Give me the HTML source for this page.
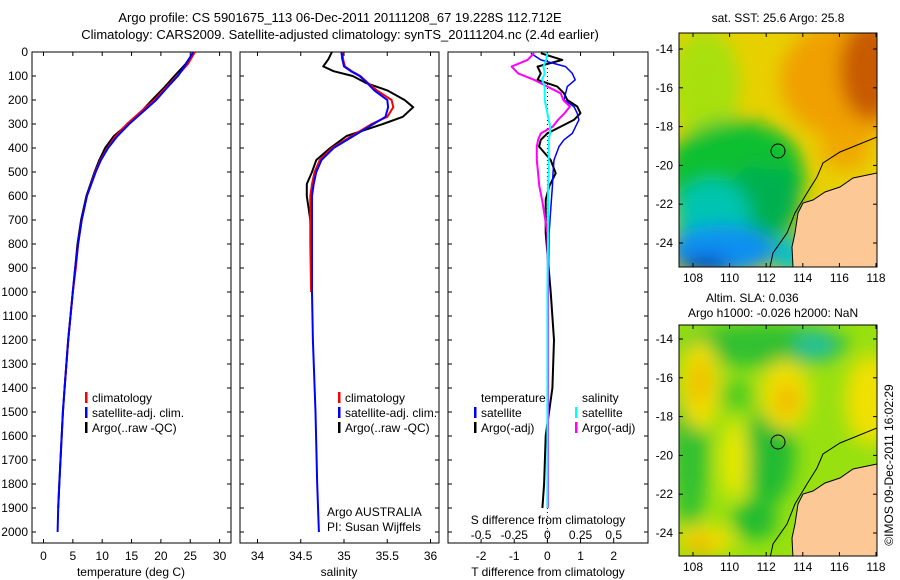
<!DOCTYPE html>
<html><head><meta charset="utf-8"><style>
body{margin:0;background:#fff;}
svg{display:block;font-family:"Liberation Sans",sans-serif;font-size:12px;}
</style></head><body>
<svg id="fig" width="900" height="580" viewBox="0 0 900 580">
<defs>
<filter id="blur" x="-50%" y="-50%" width="200%" height="200%"><feGaussianBlur stdDeviation="9"/></filter>
<clipPath id="clipTop"><rect x="679" y="33" width="198" height="234"/></clipPath>
<clipPath id="clipBot"><rect x="679" y="325" width="198" height="231"/></clipPath>
</defs>
<text x="340" y="22" text-anchor="middle" font-size="13">Argo profile: CS 5901675_113 06-Dec-2011 20111208_67 19.228S 112.712E</text>
<text x="340" y="39" text-anchor="middle" font-size="13">Climatology: CARS2009. Satellite-adjusted climatology: synTS_20111204.nc (2.4d earlier)</text>

<g id="maps">
<text x="778" y="22" text-anchor="middle">sat. SST: 25.6 Argo: 25.8</text>
<g clip-path="url(#clipTop)">
<rect x="679" y="33" width="198" height="234" fill="#e8d000"/>
<g filter="url(#blur)">
<ellipse cx="705" cy="85" rx="35" ry="55" fill="#a8e010"/>
<ellipse cx="850" cy="80" rx="70" ry="60" fill="#f0a000"/>
<ellipse cx="870" cy="70" rx="30" ry="50" fill="#c85a00"/>
<ellipse cx="845" cy="150" rx="25" ry="20" fill="#f0a800"/>
<ellipse cx="735" cy="175" rx="70" ry="55" fill="#10c030"/>
<ellipse cx="765" cy="200" rx="35" ry="40" fill="#00b050"/>
<ellipse cx="770" cy="150" rx="25" ry="20" fill="#10c030"/>
<ellipse cx="712" cy="215" rx="38" ry="35" fill="#00c4b0"/>
<ellipse cx="722" cy="250" rx="55" ry="25" fill="#1090f0"/>
<ellipse cx="705" cy="265" rx="25" ry="8" fill="#0030c0"/>
<ellipse cx="790" cy="255" rx="15" ry="20" fill="#00c0d0"/>
</g>
<polygon points="877,173 853,178 840,187 825,192 813,200 803,203 798,213 795,233 792,247 793,267 877,267" fill="#fcc896" stroke="#000" stroke-width="1"/>
<polyline points="877,137 840,152 823,163 817,177 807,193 795,213 787,233 773,253 770,267" fill="none" stroke="#000" stroke-width="1"/>
<circle cx="778" cy="151" r="7" fill="none" stroke="#000" stroke-width="1"/>
</g>
<rect x="679" y="33" width="198" height="234" fill="none" stroke="#000"/>

<text x="706" y="302">Altim. SLA: 0.036</text>
<text x="688" y="317">Argo h1000: -0.026 h2000: NaN</text>
<g clip-path="url(#clipBot)">
<rect x="679" y="325" width="198" height="231" fill="#98e010"/>
<g filter="url(#blur)">
<ellipse cx="765" cy="345" rx="85" ry="22" fill="#30c030"/>
<ellipse cx="815" cy="345" rx="20" ry="12" fill="#20c0a0"/>
<ellipse cx="690" cy="450" rx="18" ry="80" fill="#30c030"/>
<ellipse cx="770" cy="455" rx="25" ry="50" fill="#20bb30"/>
<ellipse cx="755" cy="520" rx="22" ry="20" fill="#20bb30"/>
<ellipse cx="735" cy="395" rx="20" ry="15" fill="#50cc20"/>
<ellipse cx="700" cy="385" rx="20" ry="45" fill="#f0e000"/>
<ellipse cx="700" cy="382" rx="9" ry="22" fill="#f0b800"/>
<ellipse cx="785" cy="395" rx="25" ry="35" fill="#f0e000"/>
<ellipse cx="787" cy="400" rx="11" ry="17" fill="#f0b800"/>
<ellipse cx="870" cy="400" rx="25" ry="45" fill="#f0e000"/>
<ellipse cx="735" cy="460" rx="14" ry="40" fill="#e8e800"/>
<ellipse cx="705" cy="540" rx="30" ry="15" fill="#f0e000"/>
<ellipse cx="700" cy="545" rx="15" ry="8" fill="#f0b000"/>
</g>
<polygon points="877,464 853,469 840,478 825,483 813,491 803,494 798,504 795,524 792,538 793,558 877,558" fill="#fcc896" stroke="#000" stroke-width="1"/>
<polyline points="877,428 840,443 823,454 817,468 807,484 795,504 787,524 773,544 770,558" fill="none" stroke="#000" stroke-width="1"/>
<circle cx="778" cy="442" r="7" fill="none" stroke="#000" stroke-width="1"/>
</g>
<rect x="679" y="325" width="198" height="231" fill="none" stroke="#000"/>
<text transform="translate(893,465) rotate(-90)" text-anchor="middle">©IMOS 09-Dec-2011 16:02:29</text>
</g>
<g id="plots"></g>
</svg>
<script>
// Temperature panel data
const depthT = [0,50,100,150,200,250,300,350,400,450,500,600,700,800,900,1000,1100,1200,1300,1400,1500,1600,1700,1800,1900,2000];
const climT = [25.8,24.6,22.8,20.8,18.9,16.5,14.2,12.3,10.9,9.7,8.8,7.4,6.5,5.9,5.5,5.0,4.6,4.2,3.9,3.6,null,null,null,null,null,null];
const satT = [25.5,24.3,22.9,21.0,19.2,16.9,14.6,12.6,11.0,9.8,8.9,7.4,6.5,5.9,5.4,5.0,4.6,4.2,3.9,3.6,3.3,3.1,2.9,2.7,2.5,2.4];
const argoT = [25.6,24.2,22.3,20.5,18.5,16.6,14.4,12.0,10.5,9.5,8.7,7.3,6.4,5.8,5.4,5.0,4.6,4.2,3.9,3.6,3.3,3.1,2.9,2.7,2.5,null];
// Salinity panel data
const depthS = [0,30,60,80,100,130,160,200,230,270,300,350,400,450,500,550,600,700,800,1000,1200,1500,1800,2000];
const climS = [34.98,34.99,35.01,35.09,35.19,35.28,35.38,35.55,35.57,35.50,35.32,35.09,34.86,34.72,34.66,34.63,34.61,34.61,34.61,34.62,null,null,null,null];
const satS = [34.97,34.98,35.00,35.08,35.18,35.27,35.35,35.50,35.51,35.48,35.34,35.11,34.88,34.74,34.68,34.65,34.63,34.63,34.63,34.63,34.64,34.67,34.69,34.71];
const argoS = [34.86,34.82,34.76,34.88,35.10,35.26,35.50,35.70,35.80,35.68,35.45,35.03,34.84,34.68,34.63,34.57,34.57,34.61,34.62,34.63,null,null,null,null];
// Difference panel data
const depthD = [5,33,61,89,116,144,172,200,227,255,283,311,339,366,394,450,505,561,616,755,1000,1200,1400,1600,1800,1900];
const satDT = [-0.5,-0.2,0.55,0.75,0.84,0.6,0.55,0.5,0.8,0.9,0.95,0.85,0.75,0.5,0.35,0.2,0.17,0.15,0.12,0.05,0.02,0,0,0,0,0];
const argoDT = [-0.2,0.45,-0.3,-0.2,-0.3,0.3,0.5,0.6,0.9,1.0,0.8,0.4,0.0,-0.2,-0.25,0.1,0.25,0.05,-0.05,-0.05,0.1,0.2,0.15,-0.05,-0.1,-0.15];
const satDS = [0,-0.01,-0.03,-0.02,-0.04,-0.02,-0.02,-0.02,-0.01,0,0.01,0.02,0.02,0.01,0.01,0.01,0.01,0.005,0.005,0.005,0,0,0,0,0,0];
const argoDS = [-0.1,-0.15,-0.27,-0.22,-0.1,0,0.1,0.12,0.17,0.13,0.08,0.04,-0.05,-0.07,-0.08,-0.08,-0.07,-0.06,-0.04,0,0.005,0.005,0.005,0.005,0.005,0.005];
const depthTicks = [0,100,200,300,400,500,600,700,800,900,1000,1100,1200,1300,1400,1500,1600,1700,1800,1900,2000];
const tTicks = [0,5,10,15,20,25,30];
const sTicks = [34,34.5,35,35.5,36];
const dTTicks = [-2,-1,0,1,2];
const dSTicks = [-0.5,-0.25,0,0.25,0.5];
const dSLabels = ['-0.5','-0.25','0','0.25','0.5'];
const latTicks = [-14,-16,-18,-20,-22,-24];
const lonTicks = [108,110,112,114,116,118];

const NS = 'http://www.w3.org/2000/svg';
const root = document.getElementById('plots');
function mk(tag, attrs, parent){ const e=document.createElementNS(NS,tag); for(const k in attrs) e.setAttribute(k,attrs[k]); (parent||root).appendChild(e); return e; }
const Y0=52, YB=543;
const yD = d => Y0 + d*0.24;
const xT = v => 43.5 + v*5.87;
const xS = v => 257.5 + (v-34)*86.5;
const xDT = v => 547.4 + v*33.15;
const xDS = v => 547.4 + v*132.6;
const P = [[32,231],[240,439],[448,648]];

P.forEach((p,i)=>{
  const r = mk('rect',{x:p[0],y:Y0,width:p[1]-p[0],height:YB-Y0,fill:'none',stroke:'#000'});
  
  
});
depthTicks.forEach(d=>{
  const t = mk('text',{x:28,y:yD(d)+4,'text-anchor':'end'}); t.textContent=d;
  
  
  P.forEach(p=>{ mk('line',{x1:p[0],x2:p[0]+4,y1:yD(d),y2:yD(d),stroke:'#000'}); mk('line',{x1:p[1]-4,x2:p[1],y1:yD(d),y2:yD(d),stroke:'#000'}); });
});
function xticks(vals, fx, p, labels, ly){
  vals.forEach((v,i)=>{
    const x=fx(v);
    mk('line',{x1:x,x2:x,y1:Y0,y2:Y0+4,stroke:'#000'});
    mk('line',{x1:x,x2:x,y1:YB-4,y2:YB,stroke:'#000'});
    if(ly){ const t=mk('text',{x:x,y:ly,'text-anchor':'middle'}); t.textContent=labels?labels[i]:v;
      
       }
  });
}
xticks(tTicks,xT,P[0],null,560);
xticks(sTicks,xS,P[1],null,560);
xticks(dTTicks,xDT,P[2],null,560);
dSTicks.forEach((v,i)=>{ const t=mk('text',{x:xDS(v),y:539,'text-anchor':'middle'}); t.textContent=dSLabels[i];
  
   });
[['temperature (deg C)',131],['salinity',339],['T difference from climatology',548]].forEach(a=>{
  const t=mk('text',{x:a[1],y:576,'text-anchor':'middle'}); t.textContent=a[0];
  
  
});
const st=mk('text',{x:548,y:524,'text-anchor':'middle'}); st.textContent='S difference from climatology';


const zl=mk('line',{x1:547.4,x2:547.4,y1:Y0,y2:YB,stroke:'#000','stroke-dasharray':'1,3'});



function series(depths, vals, fx, color, name, w){
  let pts=[]; depths.forEach((d,i)=>{ if(vals[i]!==null) pts.push(fx(vals[i]).toFixed(1)+','+yD(d).toFixed(1)); });
  const l=mk('polyline',{points:pts.join(' '),fill:'none',stroke:color,'stroke-width':w||2,'stroke-linejoin':'round'});
  
  
}
series(depthT,argoT,xT,'#000','argo-temperature-line');
series(depthT,climT,xT,'#f00','climatology-temperature-line');
series(depthT,satT,xT,'#00f','satellite-temperature-line');
series(depthS,argoS,xS,'#000','argo-salinity-line');
series(depthS,climS,xS,'#f00','climatology-salinity-line');
series(depthS,satS,xS,'#00f','satellite-salinity-line');
series(depthD,argoDT,xDT,'#000','argo-t-diff-line');
series(depthD,satDT,xDT,'#00f','satellite-t-diff-line',1.5);
series(depthD,argoDS,xDS,'#f0f','argo-s-diff-line');
series(depthD,satDS,xDS,'#0ff','satellite-s-diff-line');

function legend(x,y,color,label){
  if(color){ const b=mk('rect',{x:x-7,y:y-10,width:2.5,height:11,fill:color});
    
     }
  const t=mk('text',{x:x,y:y}); t.textContent=label;
  
  
}
legend(92,402,'#f00','climatology'); legend(92,417,'#00f','satellite-adj. clim.'); legend(92,432,'#000','Argo(..raw -QC)');
legend(345,402,'#f00','climatology'); legend(345,417,'#00f','satellite-adj. clim.'); legend(345,432,'#000','Argo(..raw -QC)');
legend(481,402,null,'temperature'); legend(481,417,'#00f','satellite'); legend(481,432,'#000','Argo(-adj)');
legend(582,402,null,'salinity'); legend(582,417,'#0ff','satellite'); legend(582,432,'#f0f','Argo(-adj)');
legend(327,516,null,'Argo AUSTRALIA'); legend(327,531,null,'PI: Susan Wijffels');

function mapAxes(top,bot,latY0){
  latTicks.forEach(l=>{ const y=latY0+(-14-l)*19.4;
    mk('line',{x1:679,x2:683,y1:y,y2:y,stroke:'#000'}); mk('line',{x1:873,x2:877,y1:y,y2:y,stroke:'#000'});
    const t=mk('text',{x:673,y:y+4,'text-anchor':'end'}); t.textContent=l;
    
     });
  lonTicks.forEach(l=>{ const x=693+(l-108)*18.3;
    mk('line',{x1:x,x2:x,y1:top,y2:top+4,stroke:'#000'}); mk('line',{x1:x,x2:x,y1:bot-4,y2:bot,stroke:'#000'});
    const t=mk('text',{x:x,y:bot+15,'text-anchor':'middle'}); t.textContent=l;
    
     });
}
mapAxes(33,267,49);
mapAxes(325,556,339);
</script>
</body></html>
